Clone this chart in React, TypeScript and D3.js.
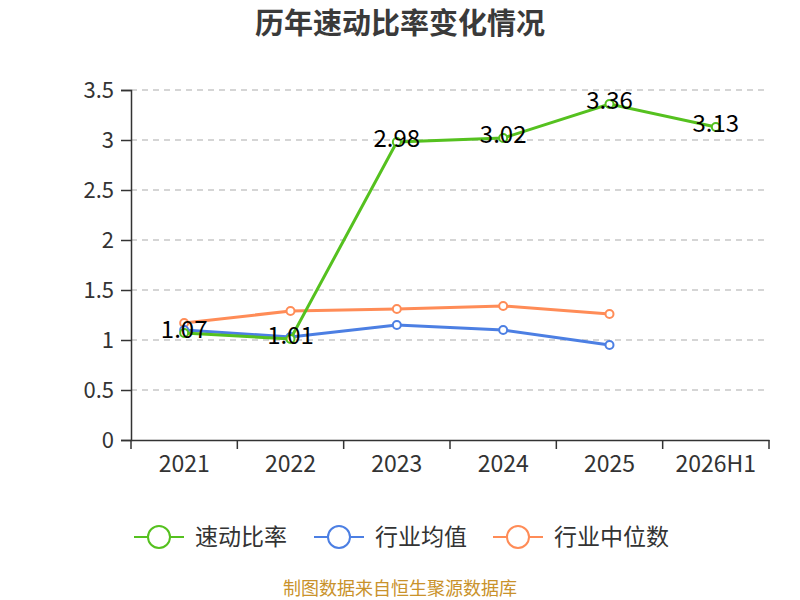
import { useEffect, useRef } from "react";
import * as d3 from "d3";

const categories = ["2021", "2022", "2023", "2024", "2025", "2026H1"];
const quickRatio = [1.07, 1.01, 2.98, 3.02, 3.36, 3.13];
const industryAvg = [1.1, 1.03, 1.15, 1.1, 0.95];
const industryMedian = [1.17, 1.29, 1.31, 1.34, 1.26];
const yTicks = [0, 0.5, 1, 1.5, 2, 2.5, 3, 3.5];

const seriesNames = ["速动比率", "行业均值", "行业中位数"];
const seriesColors = ["#55c11f", "#4c7fe3", "#ff8c57"];

const FONT = "'Noto Sans CJK SC', 'Noto Sans', sans-serif";

export default function App() {
  const svgRef = useRef(null);

  useEffect(() => {
    if (!svgRef.current) return;
    const width = 800;
    const height = 600;
    const margin = { top: 90, right: 31, bottom: 160, left: 131 };

    const svg = d3.select(svgRef.current);
    svg.selectAll("*").remove();
    svg.attr("width", width).attr("height", height).attr("viewBox", `0 0 ${width} ${height}`);

    const x = d3
      .scaleBand()
      .domain(categories)
      .range([margin.left, width - margin.right]);

    const y = d3
      .scaleLinear()
      .domain([0, 3.5])
      .range([height - margin.bottom, margin.top]);

    // title
    svg
      .append("text")
      .attr("x", 400)
      .attr("y", 34)
      .attr("text-anchor", "middle")
      .attr("font-family", FONT)
      .attr("font-size", "29px")
      .attr("font-weight", "bold")
      .attr("fill", "#3a3a3a")
      .text("历年速动比率变化情况");

    // grid
    svg
      .append("g")
      .selectAll("line")
      .data(yTicks.filter((t) => t > 0))
      .join("line")
      .attr("x1", margin.left)
      .attr("x2", width - margin.right)
      .attr("y1", (d) => y(d))
      .attr("y2", (d) => y(d))
      .attr("stroke", "#c8c8c8")
      .attr("stroke-width", 1.5)
      .attr("stroke-dasharray", "6,5");

    // y axis
    const yAxis = svg
      .append("g")
      .attr("transform", `translate(${margin.left},0)`)
      .call(
        d3
          .axisLeft(y)
          .tickValues(yTicks)
          .tickSize(10)
          .tickPadding(7)
          .tickFormat((d) => String(d))
      );
    yAxis.select(".domain").attr("stroke", "#333").attr("stroke-width", 1.5);
    yAxis.selectAll(".tick line").attr("stroke", "#333").attr("stroke-width", 1.5);
    yAxis
      .selectAll(".tick text")
      .attr("font-family", FONT)
      .attr("font-size", "22px")
      .attr("fill", "#333");

    // x axis
    const xAxis = svg
      .append("g")
      .attr("transform", `translate(0,${y(0)})`)
      .call(d3.axisBottom(x).tickSize(0).tickPadding(16));
    xAxis.select(".domain").attr("stroke", "#333").attr("stroke-width", 1.5);
    xAxis
      .selectAll(".tick text")
      .attr("font-family", FONT)
      .attr("font-size", "23px")
      .attr("fill", "#333");
    const bounds = [...categories.map((c) => x(c)!), x.range()[1]];
    svg
      .append("g")
      .selectAll("line")
      .data(bounds)
      .join("line")
      .attr("x1", (d) => d)
      .attr("x2", (d) => d)
      .attr("y1", y(0))
      .attr("y2", y(0) + 9)
      .attr("stroke", "#333")
      .attr("stroke-width", 1.5);

    const cx = (i: number) => x(categories[i])! + x.bandwidth() / 2;
    const line = d3
      .line<number>()
      .x((_, i) => cx(i))
      .y((d) => y(d));

    const allSeries = [industryMedian, industryAvg, quickRatio];
    const colorOf = [seriesColors[2], seriesColors[1], seriesColors[0]];

    allSeries.forEach((data, k) => {
      const g = svg.append("g");
      g.append("path")
        .datum(data)
        .attr("d", line)
        .attr("fill", "none")
        .attr("stroke", colorOf[k])
        .attr("stroke-width", 3);
      g.selectAll("circle")
        .data(data)
        .join("circle")
        .attr("cx", (_, i) => cx(i))
        .attr("cy", (d) => y(d))
        .attr("r", 4)
        .attr("fill", "#fff")
        .attr("stroke", colorOf[k])
        .attr("stroke-width", 2);
    });

    // data labels
    svg
      .append("g")
      .selectAll("text")
      .data(quickRatio)
      .join("text")
      .attr("x", (_, i) => cx(i))
      .attr("y", (d) => y(d) + 5)
      .attr("text-anchor", "middle")
      .attr("font-family", FONT)
      .attr("font-size", "24px")
      .attr("fill", "#000")
      .text((d) => d.toFixed(2));

    // legend
    const legendX = [134, 314, 493];
    const legendY = 537;
    seriesNames.forEach((name, i) => {
      const g = svg.append("g").attr("transform", `translate(${legendX[i]},${legendY})`);
      g.append("line")
        .attr("x1", 0)
        .attr("x2", 50)
        .attr("y1", 0)
        .attr("y2", 0)
        .attr("stroke", seriesColors[i])
        .attr("stroke-width", 2);
      g.append("circle")
        .attr("cx", 25)
        .attr("cy", 0)
        .attr("r", 11)
        .attr("fill", "#fff")
        .attr("stroke", seriesColors[i])
        .attr("stroke-width", 2);
      g.append("text")
        .attr("x", 61)
        .attr("y", 8)
        .attr("font-family", FONT)
        .attr("font-size", "23px")
        .attr("fill", "#333")
        .text(name);
    });

    // source
    svg
      .append("text")
      .attr("x", 400)
      .attr("y", 595)
      .attr("text-anchor", "middle")
      .attr("font-family", FONT)
      .attr("font-size", "18px")
      .attr("fill", "#c9922b")
      .text("制图数据来自恒生聚源数据库");
  }, []);

  return (
    <svg
      ref={svgRef}
      style={{ display: "block", position: "absolute", left: 0, top: 0 }}
    />
  );
}
